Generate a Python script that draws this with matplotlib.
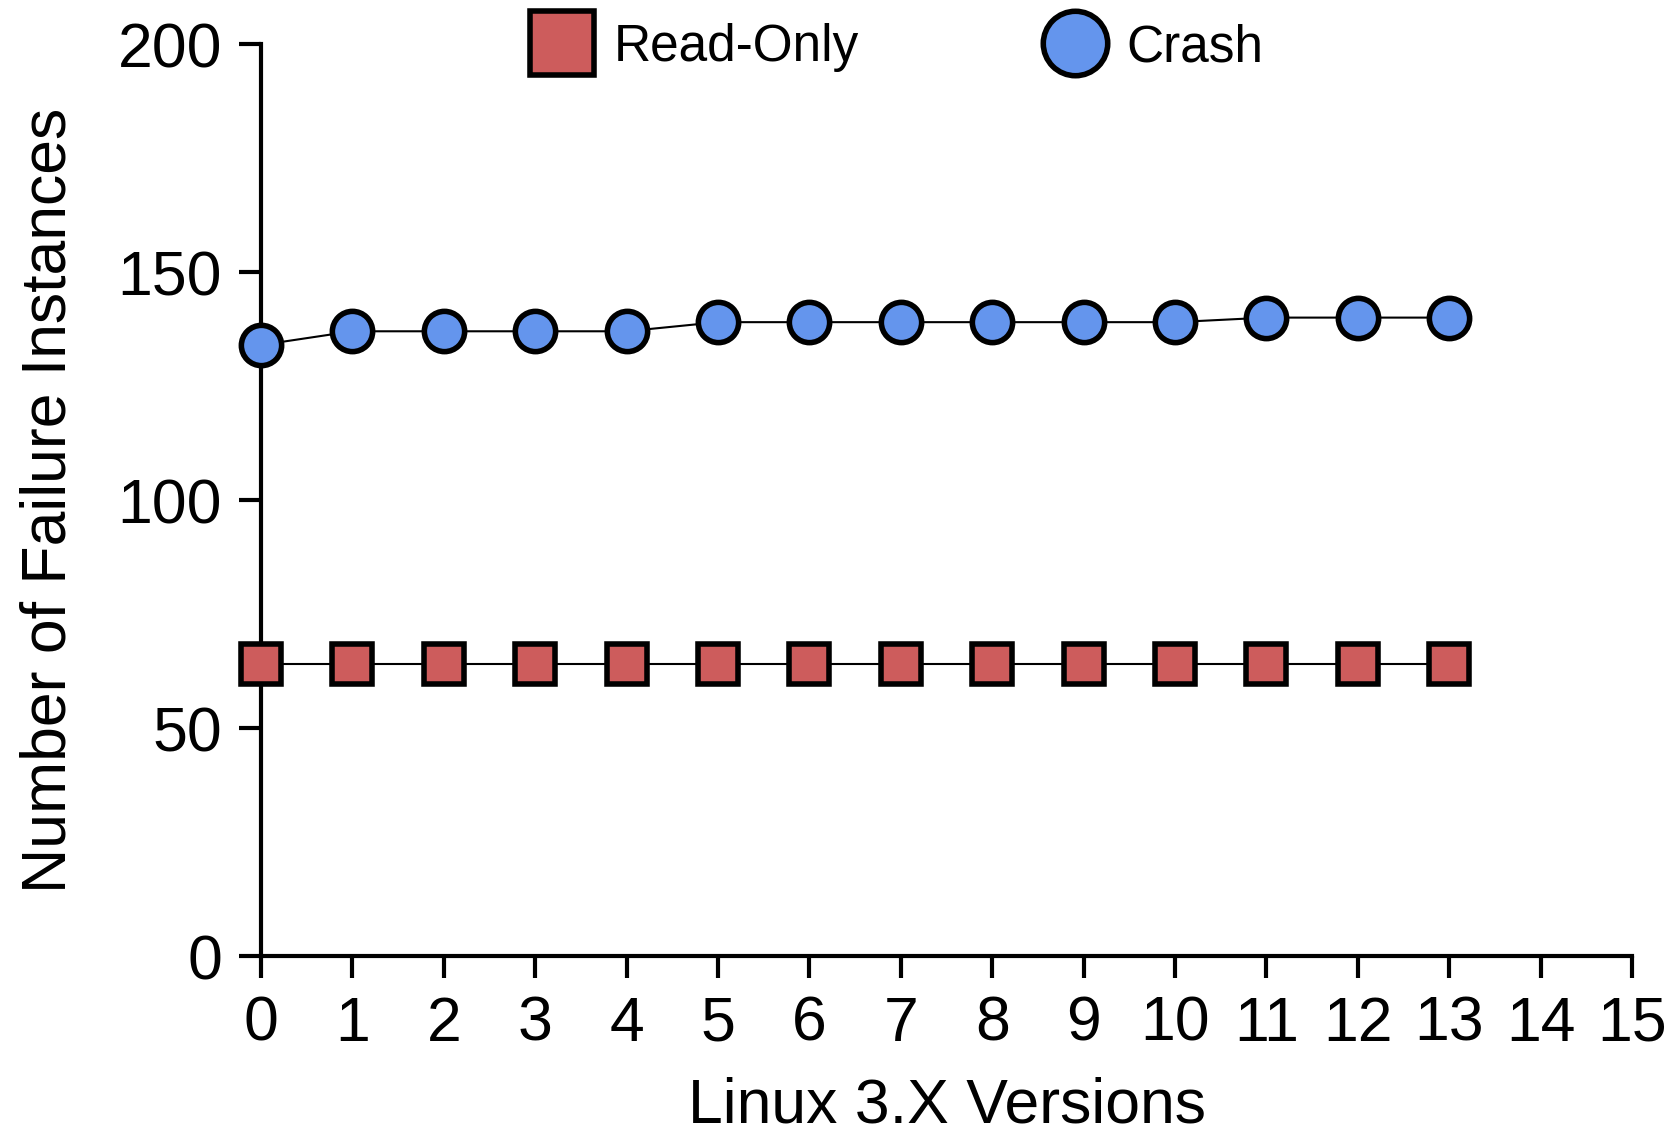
import matplotlib
matplotlib.use("Agg")
import matplotlib.pyplot as plt

# data
versions = list(range(14))
read_only = [64, 64, 64, 64, 64, 64, 64, 64, 64, 64, 64, 64, 64, 64]
crash = [134, 137, 137, 137, 137, 139, 139, 139, 139, 139, 139, 140, 140, 140]
x_ticks = list(range(16))
y_ticks = [0, 50, 100, 150, 200]

plt.rcParams['font.family'] = ['Liberation Sans', 'DejaVu Sans']

fig = plt.figure(figsize=(16.79, 11.40), dpi=100)
ax = fig.add_axes([0.1555, 0.1614, 0.972 - 0.1555, 0.9614 - 0.1614])

ax.plot(versions, read_only, color='black', linewidth=1.5, marker='s',
        markersize=29, markerfacecolor='#CD5C5C', markeredgecolor='black',
        markeredgewidth=4, label='Read-Only', clip_on=False, zorder=3)
ax.plot(versions, crash, color='black', linewidth=1.5, marker='o',
        markersize=29, markerfacecolor='#6495ED', markeredgecolor='black',
        markeredgewidth=4, label='Crash', clip_on=False, zorder=3)

ax.set_xlim(0, 15)
ax.set_ylim(0, 200)
ax.set_xticks(x_ticks)
ax.set_yticks(y_ticks)

for side in ['top', 'right']:
    ax.spines[side].set_visible(False)
for side in ['left', 'bottom']:
    ax.spines[side].set_linewidth(3)

ax.tick_params(axis='both', direction='out', length=16, width=3,
               labelsize=45, pad=12)

ax.set_xlabel('Linux 3.X Versions', fontsize=45, labelpad=16)
ax.set_ylabel('Number of Failure Instances', fontsize=45, labelpad=28)

leg = fig.legend(loc='center', bbox_to_anchor=(0.536, 0.958), ncol=2,
                 frameon=False, fontsize=37, markerscale=1.6,
                 handlelength=1.0, handletextpad=0.5, columnspacing=3.7)
for line in leg.get_lines():
    line.set_linestyle('')

fig.savefig('out.png', dpi=100)
